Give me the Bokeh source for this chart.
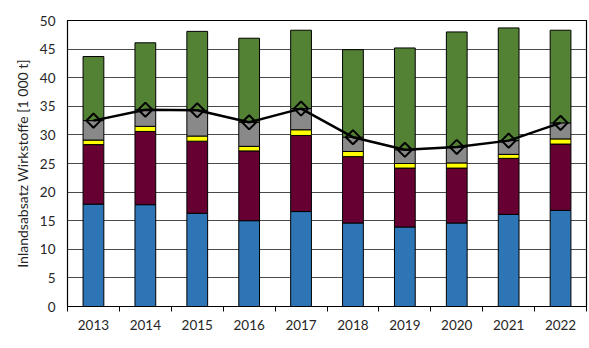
import math
from bokeh.plotting import figure
from bokeh.models import ColumnDataSource, FixedTicker, Range1d
from bokeh.embed import file_html
from bokeh.resources import INLINE

years = ["2013", "2014", "2015", "2016", "2017", "2018", "2019", "2020", "2021", "2022"]
blue = [17.9, 17.8, 16.3, 15.0, 16.6, 14.6, 13.9, 14.6, 16.1, 16.8]
maroon = [10.4, 12.8, 12.6, 12.2, 13.3, 11.6, 10.3, 9.6, 9.8, 11.6]
yellow = [0.8, 0.9, 0.9, 0.8, 1.0, 0.9, 0.8, 0.9, 0.7, 0.9]
gray = [3.4, 2.9, 4.5, 4.2, 3.7, 2.5, 2.4, 2.8, 2.4, 2.8]
green = [11.2, 11.7, 13.8, 14.7, 13.7, 15.3, 17.8, 20.1, 19.7, 16.2]
line_vals = [32.5, 34.4, 34.3, 32.2, 34.6, 29.6, 27.4, 27.9, 29.0, 32.1]
y_ticks = [0, 5, 10, 15, 20, 25, 30, 35, 40, 45, 50]

xs = [i + 0.5 for i in range(len(years))]
src = ColumnDataSource(dict(x=xs, blue=blue, maroon=maroon, yellow=yellow,
                            gray=gray, green=green, line=line_vals))

p = figure(width=589, height=348, output_backend="svg", toolbar_location=None,
           x_range=Range1d(0, len(years)), y_range=Range1d(0, 50),
           min_border_left=67, min_border_right=3, min_border_top=20,
           min_border_bottom=42)

p.vbar_stack(["blue", "maroon", "yellow", "gray", "green"], x="x", width=0.4,
             source=src,
             color=["#2E75B6", "#660033", "#FFFF00", "#898989", "#548235"],
             line_color="black", line_width=1)

p.line("x", "line", source=src, line_color="black", line_width=2.5)
p.scatter("x", "line", source=src, marker="square", size=10, angle=math.pi / 4,
          fill_color=None, line_color="black", line_width=2)

p.outline_line_color = "black"
p.outline_line_width = 1.2
p.xgrid.grid_line_color = None
p.ygrid.ticker = FixedTicker(ticks=y_ticks)
p.ygrid.grid_line_color = "#4a4a4a"
p.ygrid.grid_line_width = 1
p.ygrid.level = "underlay"

font = "Lato"
p.yaxis.ticker = FixedTicker(ticks=y_ticks)
p.yaxis.axis_label = "Inlandsabsatz Wirkstoffe [1 000 t]"
p.yaxis.axis_label_text_font = font
p.yaxis.axis_label_text_font_size = "14px"
p.yaxis.axis_label_text_font_style = "normal"
p.yaxis.axis_label_text_color = "#262626"
p.yaxis.axis_label_standoff = 6
p.yaxis.major_label_text_font = font
p.yaxis.major_label_text_font_size = "13.5px"
p.yaxis.major_label_text_color = "#262626"
p.yaxis.major_label_standoff = 12
p.yaxis.major_tick_out = 0
p.yaxis.major_tick_in = 0
p.yaxis.minor_tick_line_color = None
p.yaxis.axis_line_color = "black"

p.xaxis.ticker = FixedTicker(ticks=xs, minor_ticks=list(range(len(years) + 1)))
p.xaxis.major_label_overrides = {x: y for x, y in zip(xs, years)}
p.xaxis.major_label_text_font = font
p.xaxis.major_label_text_font_size = "13.5px"
p.xaxis.major_label_text_color = "#262626"
p.xaxis.major_label_standoff = 8
p.xaxis.major_tick_out = 0
p.xaxis.major_tick_in = 0
p.xaxis.minor_tick_out = 5
p.xaxis.minor_tick_in = 0
p.xaxis.minor_tick_line_color = "black"
p.xaxis.axis_line_color = "black"

open("out.html", "w").write(file_html(p, INLINE))
